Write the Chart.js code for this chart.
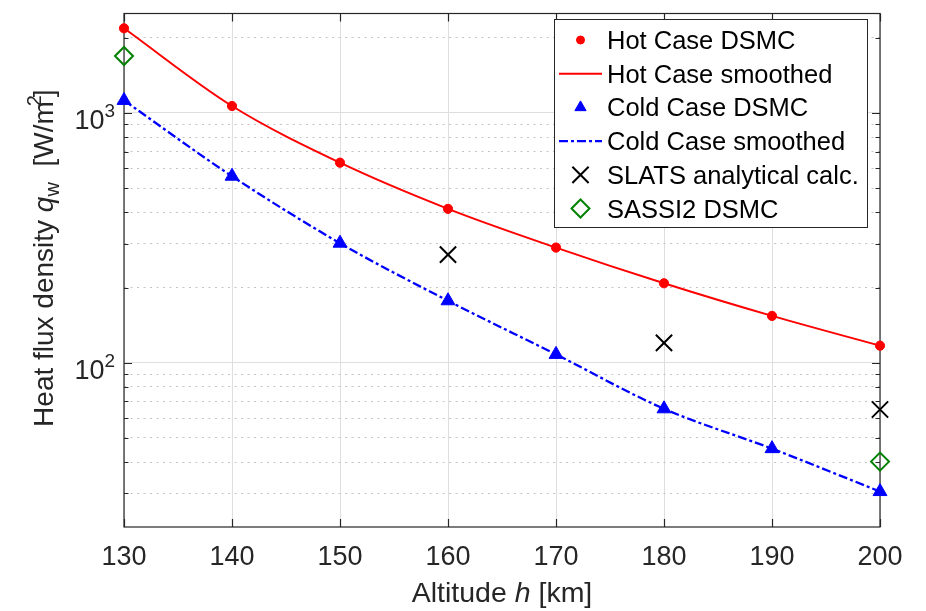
<!DOCTYPE html>
<html>
<head>
<meta charset="utf-8">
<script src="https://cdn.jsdelivr.net/npm/chart.js@4.4.1/dist/chart.umd.min.js"></script>
<style>
  html, body { margin: 0; background: #fff; }
  #heatChart { display: block; }
</style>
</head>
<body>
<canvas id="heatChart" width="926" height="611"></canvas>
<script>
/* ============================
   DATA
============================ */
const altitudes = [130, 140, 150, 160, 170, 180, 190, 200];
const hotDsmc = [2182, 1066, 632, 413, 289, 208, 154, 117];
const coldDsmc = [1122, 558, 301, 177, 108, 65.4, 45.3, 30.5];

const slatsAlt = [160, 180, 200];
const slatsCalc = [271, 120, 65];

const sassiAlt = [130, 200];
const sassiDsmc = [1690, 40.2];

const xTicks = [130, 140, 150, 160, 170, 180, 190, 200];
const yTicks = [30, 40, 50, 60, 70, 80, 90, 100, 200, 300, 400, 500, 600, 700, 800, 900, 1000, 2000];
const yMajor = [100, 1000];
const yLabels = { 100: "2", 1000: "3" }; // exponent of 10

const FONT = "'Liberation Sans', Arial, Helvetica, sans-serif";
const AXIS = "#262626";

const pts = (xs, ys) => xs.map((x, i) => ({ x, y: ys[i] }));

/* ============================
   PLUGINS
============================ */
// box + inward ticks, drawn after the grid, under the data
const boxPlugin = {
  id: "box",
  beforeDatasetsDraw(chart) {
    const { ctx, chartArea: a, scales: { x, y } } = chart;
    ctx.save();
    ctx.strokeStyle = AXIS;
    ctx.lineWidth = 1.2;
    ctx.beginPath();
    xTicks.forEach((v) => {
      const px = Math.round(x.getPixelForValue(v)) + 0.5;
      ctx.moveTo(px, a.bottom); ctx.lineTo(px, a.bottom - 8);
      ctx.moveTo(px, a.top); ctx.lineTo(px, a.top + 8);
    });
    yTicks.forEach((v) => {
      const py = Math.round(y.getPixelForValue(v)) + 0.5;
      const len = yMajor.includes(v) ? 8 : 4.5;
      ctx.moveTo(a.left, py); ctx.lineTo(a.left + len, py);
      ctx.moveTo(a.right, py); ctx.lineTo(a.right - len, py);
    });
    ctx.stroke();
    ctx.strokeRect(a.left, a.top, a.right - a.left, a.bottom - a.top);
    ctx.restore();
  },
};

// tick labels, axis titles and legend
const textPlugin = {
  id: "texts",
  afterDraw(chart) {
    const { ctx, chartArea: a, scales: { x, y } } = chart;
    ctx.save();
    ctx.fillStyle = AXIS;

    // x tick labels
    ctx.font = `27px ${FONT}`;
    ctx.textAlign = "center";
    ctx.textBaseline = "alphabetic";
    xTicks.forEach((v) => ctx.fillText(String(v), x.getPixelForValue(v), a.bottom + 38));

    // y tick labels 10^n
    ctx.textAlign = "left";
    yMajor.forEach((v) => {
      const py = y.getPixelForValue(v);
      ctx.font = `27px ${FONT}`;
      const wBase = ctx.measureText("10").width;
      ctx.font = `19px ${FONT}`;
      const wExp = ctx.measureText(yLabels[v]).width;
      const x0 = a.left - 9 - wBase - wExp;
      ctx.font = `27px ${FONT}`;
      ctx.fillText("10", x0, py + 16.5);
      ctx.font = `19px ${FONT}`;
      ctx.fillText(yLabels[v], x0 + wBase, py + 4.5);
    });

    // x title: Altitude h [km]
    const xParts = [
      ["Altitude ", `28.5px ${FONT}`],
      ["h", `italic 28.5px ${FONT}`],
      [" [km]", `28.5px ${FONT}`],
    ];
    let total = 0;
    xParts.forEach(([t, f]) => { ctx.font = f; total += ctx.measureText(t).width; });
    let cx = (a.left + a.right) / 2 - total / 2;
    xParts.forEach(([t, f]) => {
      ctx.font = f;
      ctx.fillText(t, cx, 602);
      cx += ctx.measureText(t).width;
    });

    // y title: Heat flux density q_w [W/m^2]  (superscript 2 overlaps the m)
    const yParts = [
      ["Heat flux density ", `28px ${FONT}`, 0, 1],
      ["q", `italic 28px ${FONT}`, 0, 1],
      ["w", `20px ${FONT}`, 6, 1],
      ["  [W/m", `28px ${FONT}`, 0, 1],
      ["2", `20px ${FONT}`, -12, 0.35],
      ["]", `28px ${FONT}`, 0, 1],
    ];
    total = 0;
    yParts.forEach(([t, f, , k]) => { ctx.font = f; total += ctx.measureText(t).width * k; });
    ctx.translate(53, (a.top + a.bottom) / 2 - 12);
    ctx.rotate(-Math.PI / 2);
    let tx = -total / 2;
    yParts.forEach(([t, f, dy, k]) => {
      ctx.font = f;
      const w = ctx.measureText(t).width;
      ctx.fillText(t, k < 1 ? tx - 5 : tx, dy);
      tx += w * k;
    });
    ctx.setTransform(1, 0, 0, 1, 0, 0);

    // legend
    const lx = 554.5, ly = 19.5, lw = 313, lh = 208;
    ctx.fillStyle = "#fff";
    ctx.fillRect(lx, ly, lw, lh);
    ctx.strokeStyle = AXIS;
    ctx.lineWidth = 1;
    ctx.strokeRect(lx, ly, lw, lh);

    chart.data.datasets.forEach((ds, i) => {
      const cy = 40 + i * 33.7;
      ctx.save();
      if (ds.showLine) {
        ctx.strokeStyle = ds.borderColor;
        ctx.lineWidth = ds.borderWidth;
        ctx.setLineDash(ds.borderDash || []);
        ctx.beginPath();
        ctx.moveTo(559, cy);
        ctx.lineTo(602, cy);
        ctx.stroke();
      } else {
        ctx.fillStyle = ds.pointBackgroundColor;
        ctx.strokeStyle = ds.pointBorderColor;
        ctx.lineWidth = ds.borderWidth;
        Chart.helpers.drawPoint(ctx, {
          pointStyle: ds.pointStyle,
          radius: ds.legendRadius,
          borderWidth: ds.borderWidth,
          rotation: 0,
        }, 580.5, cy);
      }
      ctx.restore();
      ctx.fillStyle = "#000";
      ctx.font = `25.5px ${FONT}`;
      ctx.textAlign = "left";
      ctx.fillText(ds.label, 607, cy + 9);
    });
    ctx.restore();
  },
};

/* ============================
   DATASETS
============================ */
const datasets = [
  {
    label: "Hot Case DSMC",
    data: pts(altitudes, hotDsmc),
    showLine: false,
    pointStyle: "circle",
    pointRadius: 4.6,
    legendRadius: 4,
    borderWidth: 1,
    pointBackgroundColor: "#ff0000",
    pointBorderColor: "#ff0000",
    clip: false,
  },
  {
    label: "Hot Case smoothed",
    data: pts(altitudes, hotDsmc),
    showLine: true,
    borderColor: "#ff0000",
    borderWidth: 2,
    pointRadius: 0,
    cubicInterpolationMode: "monotone",
    clip: false,
  },
  {
    label: "Cold Case DSMC",
    data: pts(altitudes, coldDsmc),
    showLine: false,
    pointStyle: "triangle",
    pointRadius: 8,
    legendRadius: 6.5,
    borderWidth: 1,
    pointBackgroundColor: "#0000ff",
    pointBorderColor: "#0000ff",
    clip: false,
  },
  {
    label: "Cold Case smoothed",
    data: pts(altitudes, coldDsmc),
    showLine: true,
    borderColor: "#0000ff",
    borderWidth: 2.3,
    borderDash: [9, 3, 3, 3],
    pointRadius: 0,
    cubicInterpolationMode: "monotone",
    clip: false,
  },
  {
    label: "SLATS analytical calc.",
    data: pts(slatsAlt, slatsCalc),
    showLine: false,
    pointStyle: "crossRot",
    pointRadius: 11.5,
    legendRadius: 11.5,
    borderWidth: 2,
    pointBackgroundColor: "#000",
    pointBorderColor: "#000",
    clip: false,
  },
  {
    label: "SASSI2 DSMC",
    data: pts(sassiAlt, sassiDsmc),
    showLine: false,
    pointStyle: "rectRot",
    pointRadius: 9,
    legendRadius: 9,
    borderWidth: 2,
    pointBackgroundColor: "rgba(0,0,0,0)",
    pointBorderColor: "#008000",
    clip: false,
  },
];

/* ============================
   CHART
============================ */
const heatCtx = document.getElementById("heatChart").getContext("2d");

new Chart(heatCtx, {
  type: "scatter",
  data: { datasets },
  options: {
    responsive: false,
    animation: false,
    devicePixelRatio: 1,
    layout: { padding: { left: 124, right: 46, top: 7, bottom: 84 } },
    plugins: {
      legend: { display: false },
      tooltip: { enabled: false },
    },
    scales: {
      x: {
        type: "linear",
        min: 130,
        max: 200,
        afterBuildTicks: (s) => { s.ticks = xTicks.map((v) => ({ value: v })); },
        ticks: { display: false },
        grid: { color: "#dedede", lineWidth: 1, drawTicks: false },
        border: { display: false },
      },
      y: {
        type: "logarithmic",
        min: 22,
        max: 2500,
        afterBuildTicks: (s) => {
          s.ticks = yTicks.map((v) => ({ value: v, major: yMajor.includes(v) }));
        },
        ticks: { display: false },
        grid: {
          color: (c) => (c.tick && yMajor.includes(c.tick.value) ? "#dedede" : "#c4c4c4"),
          lineWidth: 1,
          drawTicks: false,
        },
        border: {
          display: false,
          dash: (c) => (c.tick && !yMajor.includes(c.tick.value) ? [2, 4.5] : []),
        },
      },
    },
  },
  plugins: [boxPlugin, textPlugin],
});
</script>
</body>
</html>
